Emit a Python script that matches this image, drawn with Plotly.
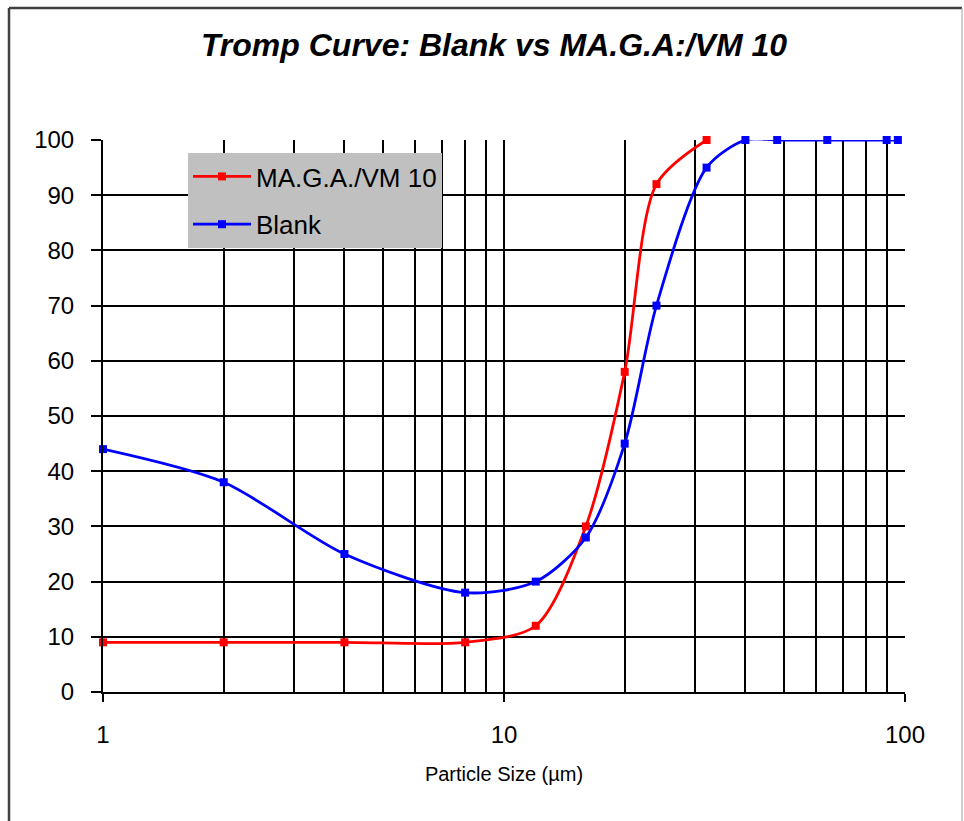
import plotly.graph_objects as go

# Data
maga_x = [1, 2, 4, 8, 12, 16, 20, 24, 32]
maga_y = [9, 9, 9, 9, 12, 30, 58, 92, 100]
blank_x = [1, 2, 4, 8, 12, 16, 20, 24, 32, 40, 48, 64, 90, 96]
blank_y = [44, 38, 25, 18, 20, 28, 45, 70, 95, 100, 100, 100, 100, 100]
x_major = [1, 10, 100]
x_minor = [2, 3, 4, 5, 6, 7, 8, 9, 20, 30, 40, 50, 60, 70, 80, 90]

W, H = 964, 821
L, R, T, B = 103, 905, 140, 692

fig = go.Figure()
fig.add_trace(go.Scatter(
    x=maga_x, y=maga_y, name="MA.G.A./VM 10", mode="lines+markers",
    line=dict(color="#ff0000", width=2.8, shape="spline", smoothing=0.8),
    marker=dict(symbol="square", size=8, color="#ff0000"),
    cliponaxis=False, legendgroup="a"))
fig.add_trace(go.Scatter(
    x=blank_x, y=blank_y, name="Blank", mode="lines+markers",
    line=dict(color="#0000ff", width=2.8, shape="spline", smoothing=0.8),
    marker=dict(symbol="square", size=8, color="#0000ff"),
    cliponaxis=False, legendgroup="b"))

font = "Liberation Sans, Arial, sans-serif"

fig.update_layout(
    width=W, height=H,
    margin=dict(l=L, r=W - R, t=T, b=H - B),
    paper_bgcolor="white", plot_bgcolor="white",
    font=dict(family=font, color="black"),
    title=dict(text="<b><i>Tromp Curve: Blank vs MA.G.A:/VM 10</i></b>",
               x=(494) / W, xanchor="center", y=1 - 45 / H, yanchor="middle",
               font=dict(size=32, family=font)),
    showlegend=True,
    legend=dict(x=(188 - L) / (R - L), y=(B - 153) / (B - T), xanchor="left", yanchor="top",
                bgcolor="#c0c0c0", borderwidth=0, font=dict(size=26, family=font),
                tracegroupgap=11, itemwidth=58, traceorder="grouped"),
    xaxis=dict(type="log", range=[0, 2], tickvals=x_major, ticktext=["1", "10", "100"],
               showgrid=True, gridcolor="black", gridwidth=2,
               showline=True, linecolor="black", linewidth=2,
               ticks="outside", ticklen=8, tickwidth=2, tickcolor="black",
               tickfont=dict(size=24, family=font), ticklabelstandoff=12,
               minor=dict(tickvals=x_minor, showgrid=True, gridcolor="black", gridwidth=2, ticks=""),
               title=dict(text="Particle Size (µm)", font=dict(size=20, family=font), standoff=20),
               zeroline=False),
    yaxis=dict(range=[0, 100], dtick=10, showgrid=True, gridcolor="black", gridwidth=2,
               showline=True, linecolor="black", linewidth=2,
               ticks="outside", ticklen=10, tickwidth=2, tickcolor="black",
               tickfont=dict(size=24, family=font), ticklabelstandoff=12,
               zeroline=False),
)

def px(xp):
    return (xp - L) / (R - L)

def py(yp):
    return (B - yp) / (B - T)

fig.add_shape(type="line", xref="paper", yref="paper", x0=px(9), x1=px(9), y0=py(830), y1=py(8),
              line=dict(color="#404040", width=2.5))
fig.add_shape(type="line", xref="paper", yref="paper", x0=px(9), x1=px(962), y0=py(8), y1=py(8),
              line=dict(color="#404040", width=2.5))
fig.add_shape(type="line", xref="paper", yref="paper", x0=px(962), x1=px(962), y0=py(830), y1=py(8),
              line=dict(color="#a0a0a0", width=1))

fig.write_html("out.html")
